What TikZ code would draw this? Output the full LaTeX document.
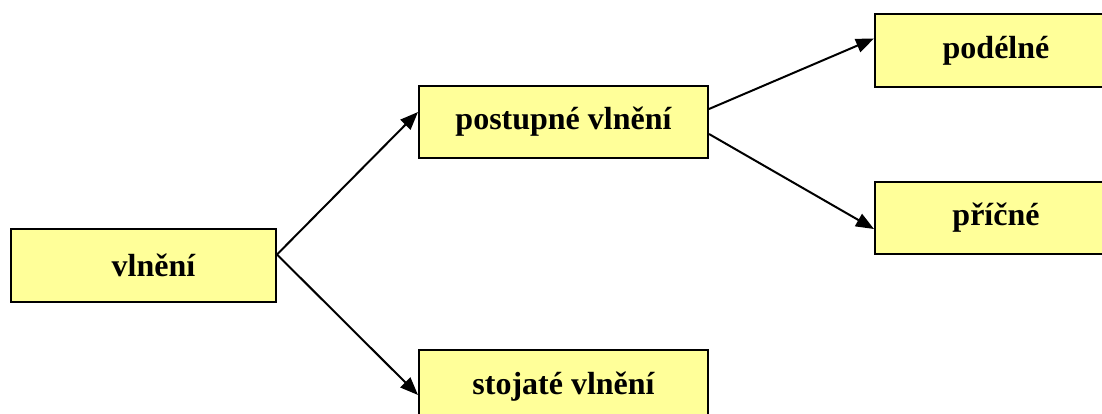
\documentclass[tikz,border=0pt]{standalone}
\usepackage{fontspec}
\setmainfont{Liberation Serif}
\usetikzlibrary{arrows.meta,calc}
\tikzset{
  box/.style={draw=black, line width=2pt, fill=boxyellow, anchor=north west,
    inner sep=0pt, font=\fontsize{32}{36}\selectfont\bfseries},
  link/.style={line width=2pt, -{Triangle[length=18pt,width=14pt]}}
}
\definecolor{boxyellow}{RGB}{255,255,153}
\begin{document}
\begin{tikzpicture}[x=1pt,y=-1pt]
  \useasboundingbox (0,0) rectangle (1102,414);
  % boxes
  \node[box, minimum width=265pt, minimum height=73pt] (vl) at (10,228) {\hspace*{20pt}vlnění};
  \node[box, minimum width=289pt, minimum height=72pt] (pv) at (418,85) {postupné vlnění};
  \node[box, minimum width=289pt, minimum height=73pt] (sv) at (418,349) {stojaté vlnění};
  \node[box, minimum width=242pt, minimum height=73pt] (po) at (874,13) {podélné};
  \node[box, minimum width=242pt, minimum height=72pt] (pr) at (874,181) {příčné};
  % connectors
  \draw[link] ($(vl.east)+(0,-11)$) -- ($(pv.west)+(0,-10)$);
  \draw[link] ($(vl.east)+(0,-11)$) -- ($(sv.north west)+(0,46)$);
  \draw[link] ($(pv.east)+(0,-13)$) -- ($(po.west)+(0,-12)$);
  \draw[link] ($(pv.east)+(0,12)$) -- ($(pr.west)+(0,11)$);
\end{tikzpicture}
\end{document}
